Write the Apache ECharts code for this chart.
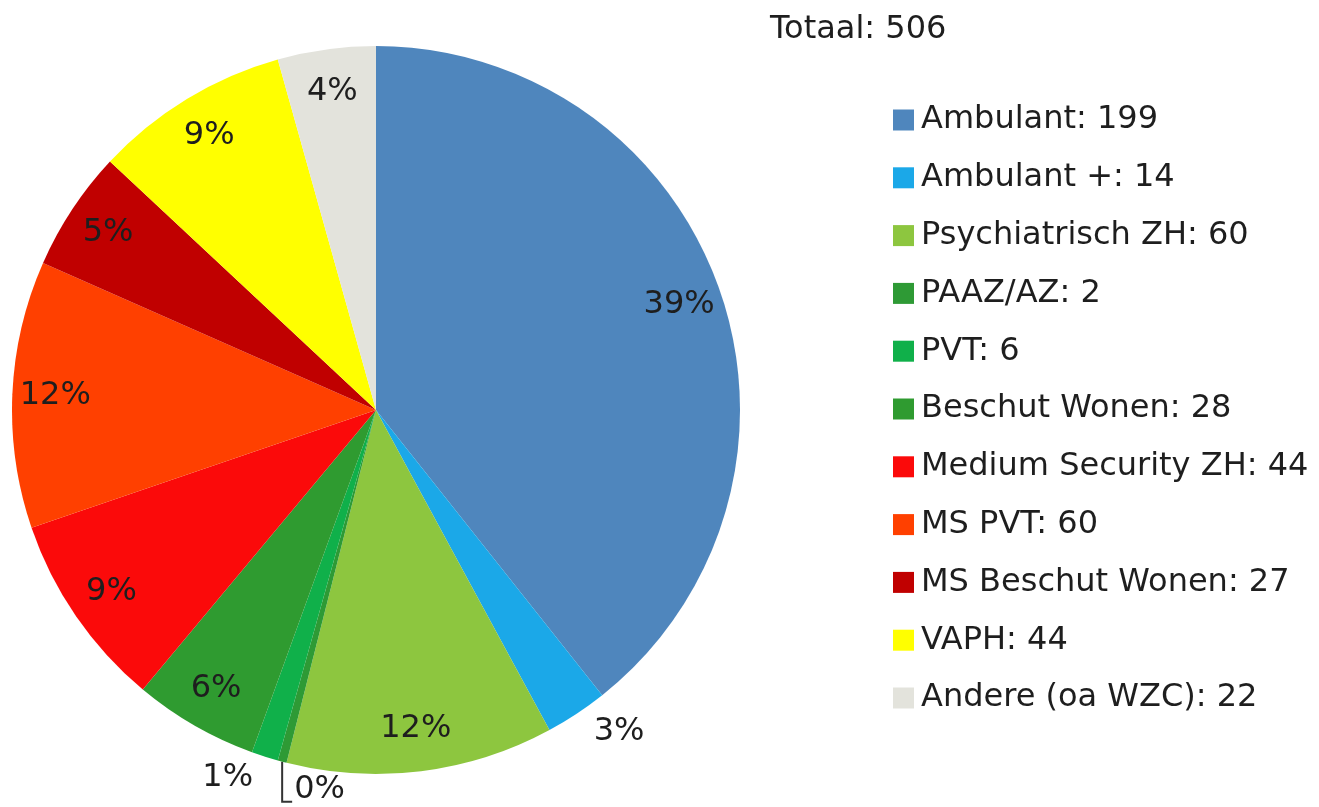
<!DOCTYPE html>
<html>
<head>
<meta charset="utf-8">
<script src="https://cdn.jsdelivr.net/npm/echarts@6/dist/echarts.min.js"></script>
<style>
  html, body { margin: 0; padding: 0; background: #fff; }
  #pieChart { width: 1319px; height: 807px; }
</style>
</head>
<body>
<div id="pieChart"></div>
<script>
  // data
  const categories = ['Ambulant', 'Ambulant +', 'Psychiatrisch ZH', 'PAAZ/AZ', 'PVT', 'Beschut Wonen',
    'Medium Security ZH', 'MS PVT', 'MS Beschut Wonen', 'VAPH', 'Andere (oa WZC)']
  const counts = [199, 14, 60, 2, 6, 28, 44, 60, 27, 44, 22]
  const colors = ['#4f86bd', '#1ba8e8', '#8dc63f', '#2e9a35', '#10b04a', '#2f9b30',
    '#fb0a0a', '#ff4000', '#c00000', '#ffff00', '#e3e3dc']
  const outsideLabels = ['Ambulant +', 'PVT', 'PAAZ/AZ']
  const total = counts.reduce((a, b) => a + b, 0)

  const font = 'DejaVu Sans'
  const textColor = '#1e1e1e'

  let pieData = categories.map((name, i) => ({
    name: name,
    value: counts[i],
    itemStyle: { color: colors[i] }
  }))

  let labelData = categories.map((name, i) => {
    let item = { name: name, value: counts[i] }
    if (outsideLabels.indexOf(name) > -1) {
      item.label = { position: 'outside' }
      item.labelLine = { show: name === 'PAAZ/AZ' }
    }
    return item
  })

  const option = {
    backgroundColor: '#fff',
    animation: false,
    title: {
      text: 'Totaal: ' + total,
      left: 770,
      top: 14,
      padding: 0,
      textStyle: { fontFamily: font, fontSize: 32, fontWeight: 'normal', color: textColor }
    },
    legend: {
      orient: 'vertical',
      left: 893,
      top: 104,
      padding: 0,
      itemWidth: 21,
      itemHeight: 21,
      itemGap: 25.8,
      icon: 'rect',
      formatter: function (name) {
        return name + ': ' + counts[categories.indexOf(name)]
      },
      textStyle: { fontFamily: font, fontSize: 32, color: textColor, padding: [0, 0, 0, 2] },
      data: categories.map((name, i) => ({ name: name, itemStyle: { color: colors[i] } }))
    },
    series: [{
      name: 'main',
      type: 'pie',
      center: [376, 410],
      radius: [0, 364],
      startAngle: 90,
      clockwise: true,
      silent: true,
      label: { show: false },
      labelLine: { show: false },
      data: pieData
    }, {
      name: 'labels',
      type: 'pie',
      center: [376, 410],
      radius: [272, 364],
      startAngle: 90,
      clockwise: true,
      silent: true,
      avoidLabelOverlap: false,
      itemStyle: { color: 'rgba(0,0,0,0)' },
      label: {
        show: true,
        position: 'inside',
        fontFamily: font,
        fontSize: 32,
        color: textColor,
        formatter: function (p) {
          return Math.round(p.percent) + '%'
        }
      },
      labelLine: {
        show: false,
        length: 22,
        length2: 0,
        lineStyle: { color: '#333', width: 2 }
      },
      labelLayout: function (params) {
        if (params.dataIndex !== categories.indexOf('PAAZ/AZ') || !params.labelLinePoints) {
          return {}
        }
        let p0 = params.labelLinePoints[0]
        return {
          x: p0[0] + 12,
          y: p0[1] + 28,
          align: 'left',
          verticalAlign: 'middle',
          labelLinePoints: [p0, [p0[0], p0[1] + 40], [p0[0] + 10, p0[1] + 40]]
        }
      },
      data: labelData
    }]
  }

  let eChart = echarts.init(document.getElementById('pieChart'), null, { renderer: 'canvas' })
  eChart.setOption(option)
  window.addEventListener('resize', () => {
    eChart.resize()
  })
</script>
</body>
</html>
